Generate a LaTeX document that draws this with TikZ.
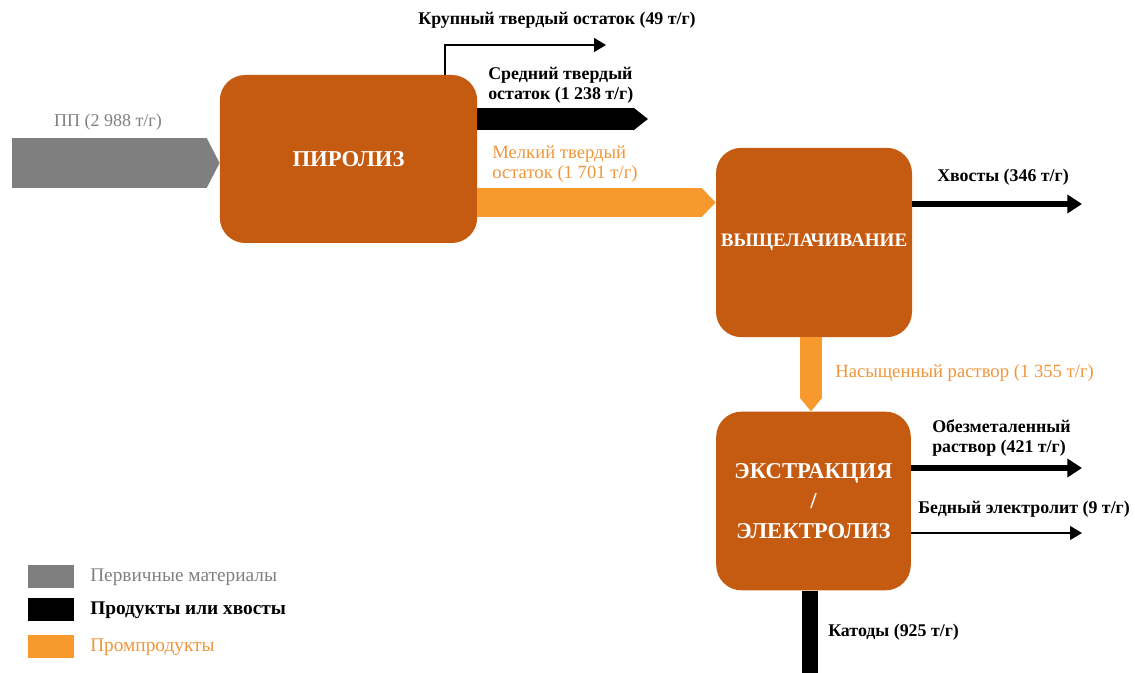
\documentclass[tikz,border=0pt]{standalone}
\usepackage{fontspec}
\setmainfont{Liberation Serif}
\usepackage{tikz}
\usetikzlibrary{arrows.meta}

\definecolor{boxbrown}{HTML}{C55A11}
\definecolor{flowgray}{HTML}{7F7F7F}
\definecolor{floworange}{HTML}{F8992E}
\definecolor{textorange}{HTML}{F0963A}

\begin{document}
\begin{tikzpicture}
            [x=0.75pt,y=-0.75pt,
             box/.style={rectangle,rounded corners=19pt,fill=boxbrown,text=white,
                         font=\bfseries\fontsize{17}{20}\selectfont,align=center,inner sep=0pt},
             lbl/.style={font=\bfseries\fontsize{13.4}{15}\selectfont,align=left,inner sep=0pt},
             lblgray/.style={font=\fontsize{13.5}{15}\selectfont,text=flowgray,align=left,inner sep=0pt},
             lblorange/.style={font=\fontsize{14}{15}\selectfont,text=textorange,align=left,inner sep=0pt},
             legbox/.style={rectangle,minimum width=34.5pt,minimum height=17pt,inner sep=0pt},
             fatgray/.style={draw=flowgray,line width=37.5pt,-{Triangle[length=9.75pt,width=0pt 1]}},
             fatblack/.style={draw=black,line width=16.5pt,-{Triangle[length=11pt,width=0pt 1]}},
             fatorange/.style={draw=floworange,line width=22pt,-{Triangle[length=11pt,width=0pt 1]}},
             fatorangev/.style={draw=floworange,line width=16.5pt,-{Triangle[length=10.5pt,width=0pt 1]}},
             midblack/.style={draw=black,line width=4.5pt,-{Triangle[length=11pt,width=13.5pt]}},
             thinblack/.style={draw=black,line width=0.9pt,-{Triangle[length=9pt,width=10.5pt]}}]
            \useasboundingbox (0,0) rectangle (1135,673);

            % process boxes
            \node[box,minimum width=193pt,minimum height=126pt] (piroliz) at (348.5,159) {ПИРОЛИЗ};
            \node[box,minimum width=147pt,minimum height=142pt,font=\bfseries\fontsize{14.3}{17}\selectfont] (vyshch) at (814,242.5) {ВЫЩЕЛАЧИВАНИЕ};
            \node[box,minimum width=146pt,minimum height=134pt,font=\bfseries\fontsize{17}{22.5}\selectfont] (ekstr) at (813.5,501) {ЭКСТРАКЦИЯ\\/\\ЭЛЕКТРОЛИЗ};

            % free ends
            \coordinate (ppstart) at (12,163);
            \coordinate (krupup) at (445,45);
            \coordinate (krupend) at (606,45);
            \coordinate (sredend) at (648,119);
            \coordinate (melk) at (0,202.5);
            \coordinate (xvend) at (1082,204);
            \coordinate (obezend) at (1082,468);
            \coordinate (bednend) at (1082,533);
            \coordinate (katend) at (810,673);

            % flows
            \draw[fatgray] (ppstart) -- (ppstart -| piroliz.west);
            \draw[thinblack] (krupup |- piroliz.north) -- (krupup) -- (krupend);
            \draw[fatblack] (piroliz.east |- sredend) -- (sredend);
            \draw[fatorange] (piroliz.east |- melk) -- (vyshch.west |- melk);
            \draw[midblack] (vyshch.east |- xvend) -- (xvend);
            \draw[fatorangev] (vyshch.south -| 811,0) -- (ekstr.north -| 811,0);
            \draw[midblack] (ekstr.east |- obezend) -- (obezend);
            \draw[thinblack] (ekstr.east |- bednend) -- (bednend);
            \draw[draw=black,line width=12pt] (ekstr.south -| katend) -- (katend);

            % labels
            \node[lblgray] (pplbl) at (108,122) {ПП (2 988 т/г)};
            \node[lbl] (kruplbl) at (557,20) {Крупный твердый остаток (49 т/г)};
            \node[lbl,anchor=west] (sredlbl) at (488,85) {Средний твердый\\остаток (1 238 т/г)};
            \node[lblorange,anchor=west] (melklbl) at (492,164.5) {Мелкий твердый\\остаток (1 701 т/г)};
            \node[lbl] (xvlbl) at (1003,177) {Хвосты (346 т/г)};
            \node[lblorange,anchor=west] (naslbl) at (835,373) {Насыщенный раствор (1 355 т/г)};
            \node[lbl,anchor=west] (obezlbl) at (932,438) {Обезметаленный\\раствор (421 т/г)};
            \node[lbl,anchor=west] (bednlbl) at (918,509) {Бедный электролит (9 т/г)};
            \node[lbl,anchor=west] (katlbl) at (828,632) {Катоды (925 т/г)};

            % legend
            \node[legbox,fill=flowgray] (leggray) at (51,576.5) {};
            \node[legbox,fill=black] (legblack) at (51,609.5) {};
            \node[legbox,fill=floworange] (legorange) at (51,646.5) {};
            \node[lblgray,anchor=west,font=\fontsize{14.5}{15}\selectfont] (leggraylbl) at (90,577) {Первичные материалы};
            \node[lbl,anchor=west,font=\bfseries\fontsize{14.5}{15}\selectfont] (legblacklbl) at (90,610) {Продукты или хвосты};
            \node[lblorange,anchor=west,font=\fontsize{14.5}{15}\selectfont] (legorangelbl) at (90,647) {Промпродукты};

        \end{tikzpicture}
\end{document}
